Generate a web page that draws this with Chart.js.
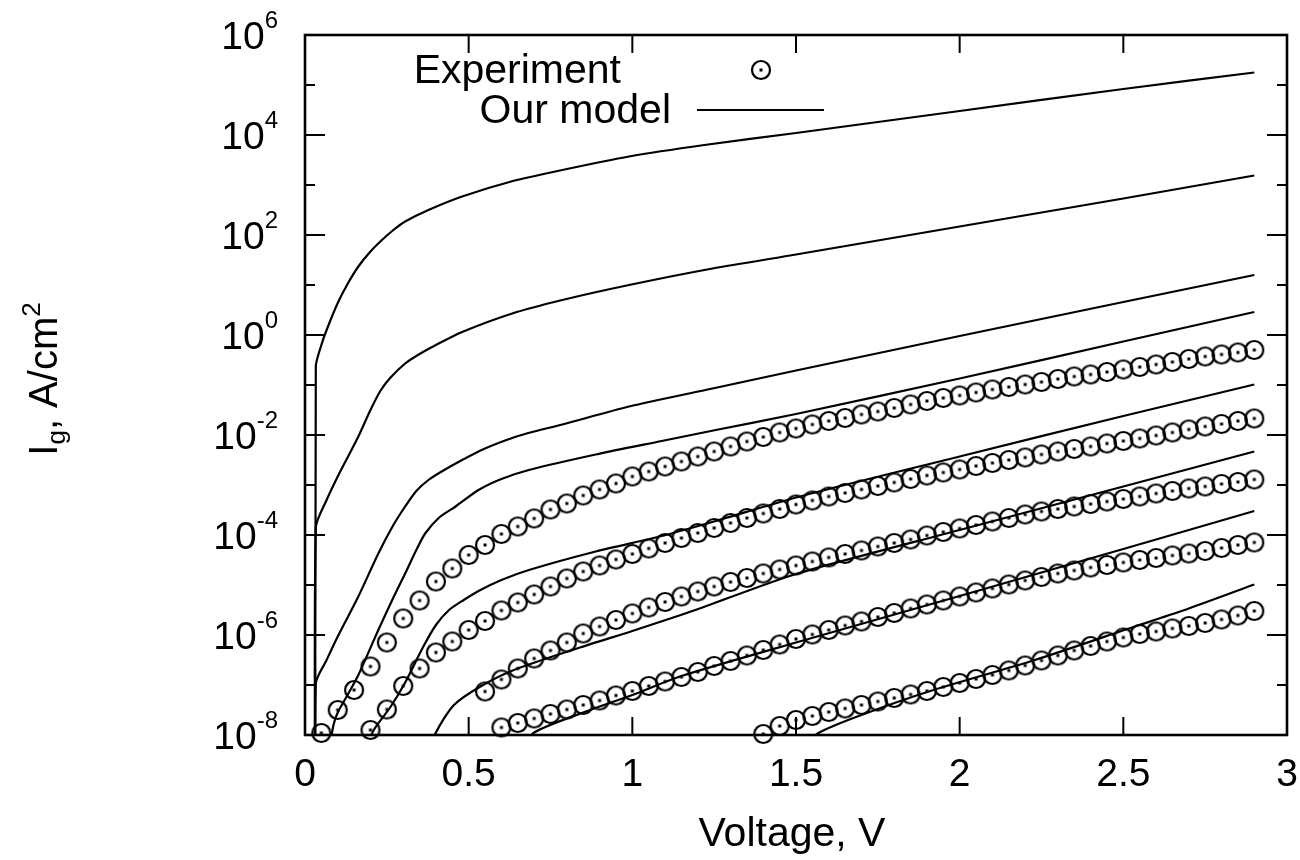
<!DOCTYPE html>
<html>
<head>
<meta charset="utf-8">
<title>Gate current density vs voltage</title>
<script src="https://cdn.jsdelivr.net/npm/chart.js@4.4.1/dist/chart.umd.min.js"></script>
<style>
  html, body { margin: 0; padding: 0; background: #fff; }
  #wrap { width: 1300px; height: 860px; }
</style>
</head>
<body>
<div id="wrap"><canvas id="chart" width="1300" height="860"></canvas></div>
<script>
// axis ticks
const xTickValues = [0, 0.5, 1, 1.5, 2, 2.5, 3];
const xTickLabels = ['0', '0.5', '1', '1.5', '2', '2.5', '3'];
const yMajorExps = [6, 4, 2, 0, -2, -4, -6, -8];
const yMinorExps = [5, 3, 1, -1, -3, -5, -7];

// measured points, one circle every 0.05 V; currents given as log10(A/cm^2)
const expVoltage = [0.05, 0.1, 0.15, 0.2, 0.25, 0.3, 0.35, 0.4, 0.45, 0.5,
  0.55, 0.6, 0.65, 0.7, 0.75, 0.8, 0.85, 0.9, 0.95, 1,
  1.05, 1.1, 1.15, 1.2, 1.25, 1.3, 1.35, 1.4, 1.45, 1.5,
  1.55, 1.6, 1.65, 1.7, 1.75, 1.8, 1.85, 1.9, 1.95, 2,
  2.05, 2.1, 2.15, 2.2, 2.25, 2.3, 2.35, 2.4, 2.45, 2.5,
  2.55, 2.6, 2.65, 2.7, 2.75, 2.8, 2.85, 2.9];

const expA = [-7.96, -7.50, -7.10, -6.63, -6.15, -5.67, -5.31, -4.93, -4.67, -4.40,
  -4.20, -3.98, -3.83, -3.67, -3.49, -3.37, -3.21, -3.09, -2.97, -2.83,
  -2.73, -2.63, -2.53, -2.43, -2.33, -2.23, -2.13, -2.04, -1.95, -1.87,
  -1.79, -1.72, -1.66, -1.59, -1.53, -1.46, -1.39, -1.32, -1.26, -1.21,
  -1.15, -1.09, -1.04, -0.99, -0.94, -0.88, -0.83, -0.79, -0.74, -0.69,
  -0.64, -0.59, -0.54, -0.48, -0.43, -0.39, -0.35, -0.30];
const expAStart = 0.05;

const expB = [-7.90, -7.49, -7.02, -6.67, -6.35, -6.13, -5.90,
  -5.72, -5.51, -5.35, -5.19, -5.03, -4.87, -4.73, -4.61, -4.49, -4.38,
  -4.27, -4.16, -4.06, -3.96, -3.86, -3.76, -3.66, -3.57, -3.48, -3.39,
  -3.31, -3.23, -3.16, -3.09, -3.02, -2.95, -2.88, -2.81, -2.75, -2.69,
  -2.62, -2.56, -2.50, -2.45, -2.39, -2.33, -2.28, -2.23, -2.17, -2.12,
  -2.07, -2.01, -1.95, -1.89, -1.83, -1.78, -1.72, -1.67];
const expBStart = 0.2;

const expC = [-7.13, -6.89, -6.67, -6.47, -6.31, -6.15, -5.97, -5.83, -5.70, -5.57,
  -5.45, -5.34, -5.23, -5.13, -5.03, -4.94, -4.86, -4.77, -4.69, -4.61,
  -4.53, -4.45, -4.38, -4.31, -4.23, -4.16, -4.09, -4.01, -3.94, -3.87,
  -3.80, -3.73, -3.66, -3.59, -3.53, -3.48, -3.43, -3.38, -3.33, -3.28,
  -3.23, -3.17, -3.12, -3.07, -3.03, -2.98, -2.94, -2.89];
const expCStart = 0.55;

const expD = [-7.85, -7.76, -7.67, -7.58, -7.49, -7.40, -7.31, -7.21, -7.12,
  -7.02, -6.93, -6.84, -6.74, -6.62, -6.52, -6.41, -6.30, -6.19, -6.08,
  -5.99, -5.90, -5.81, -5.73, -5.64, -5.56, -5.47, -5.39, -5.31, -5.23,
  -5.15, -5.07, -4.99, -4.91, -4.84, -4.77, -4.71, -4.65, -4.60, -4.55,
  -4.50, -4.46, -4.41, -4.37, -4.32, -4.26, -4.20, -4.15];
const expDStart = 0.6;

const expE = [-7.98, -7.82, -7.70,
  -7.62, -7.54, -7.47, -7.40, -7.33, -7.26, -7.19, -7.12, -7.04, -6.96,
  -6.88, -6.80, -6.71, -6.61, -6.51, -6.41, -6.31, -6.22, -6.13, -6.05,
  -5.98, -5.93, -5.87, -5.82, -5.76, -5.69, -5.61, -5.52];
const expEStart = 1.4;

// model curves (voltage, log10 current); -12 = drops off the bottom of the plot
const modelV1 = [0.033, 0.033, 0.05, 0.066, 0.1, 0.13, 0.163, 0.2, 0.235, 0.27, 0.306, 0.377, 0.48, 0.63, 0.786, 0.99, 1.22, 1.5, 2, 2.5, 2.9];
const modelI1 = [-12, -0.63, -0.2, 0.1, 0.64, 1.02, 1.37, 1.67, 1.9, 2.1, 2.27, 2.5, 2.77, 3.07, 3.3, 3.57, 3.8, 4.04, 4.48, 4.92, 5.25];

const modelV2 = [0.033, 0.033, 0.066, 0.1, 0.13, 0.163, 0.2, 0.23, 0.26, 0.306, 0.35, 0.4, 0.48, 0.633, 0.786, 0.99, 1.245, 1.5, 2, 2.5, 2.9];
const modelI2 = [-12, -3.85, -3.3, -2.83, -2.45, -2.03, -1.5, -1.12, -0.86, -0.57, -0.38, -0.2, 0.06, 0.43, 0.7, 1.0, 1.33, 1.61, 2.17, 2.73, 3.19];

const modelV3 = [0.033, 0.033, 0.066, 0.1, 0.163, 0.224, 0.27, 0.306, 0.34, 0.377, 0.42, 0.48, 0.55, 0.633, 0.7, 0.786, 0.99, 1.245, 1.5, 2, 2.5, 2.9];
const modelI3 = [-12, -6.97, -6.5, -6.03, -5.23, -4.37, -3.8, -3.43, -3.12, -2.9, -2.72, -2.5, -2.27, -2.06, -1.93, -1.79, -1.43, -1.07, -0.71, -0.02, 0.66, 1.2];

const modelV4 = [0.066, 0.087, 0.1, 0.13, 0.163, 0.224, 0.27, 0.306, 0.34, 0.367, 0.41, 0.46, 0.53, 0.6, 0.684, 0.888, 1.09, 1.255, 1.5, 2, 2.5, 2.9];
const modelI4 = [-8.6, -7.8, -7.55, -7.2, -6.8, -5.9, -5.25, -4.77, -4.3, -3.97, -3.65, -3.43, -3.1, -2.88, -2.7, -2.39, -2.12, -1.9, -1.58, -0.87, -0.13, 0.46];

const modelV5 = [0.17, 0.21, 0.26, 0.306, 0.36, 0.4, 0.44, 0.485, 0.53, 0.6, 0.684, 0.888, 1.09, 1.255, 1.5, 2, 2.5, 2.9];
const modelI5 = [-8.5, -7.9, -7.45, -6.95, -6.25, -5.8, -5.5, -5.3, -5.12, -4.9, -4.7, -4.33, -4.02, -3.72, -3.25, -2.43, -1.62, -0.99];

const modelV6 = [0.37, 0.4, 0.455, 0.536, 0.638, 0.84, 1.0, 1.148, 1.21, 1.5, 2, 2.5, 2.9];
const modelI6 = [-8.5, -7.95, -7.4, -7.03, -6.7, -6.25, -5.92, -5.6, -5.46, -4.78, -3.9, -3.03, -2.33];

const modelV7 = [0.66, 0.7, 0.85, 1.0, 1.15, 1.5, 2, 2.5, 2.9];
const modelI7 = [-8.3, -7.95, -7.55, -7.2, -6.82, -6.15, -5.22, -4.28, -3.52];

const modelV8 = [1.52, 1.566, 1.7, 1.92, 2.23, 2.535, 2.7, 2.9];
const modelI8 = [-8.3, -7.97, -7.6, -7.1, -6.5, -5.83, -5.47, -4.99];

const FONT = '"Liberation Sans", Arial, Helvetica, sans-serif';

function expPoints(startV, logs) {
  const i0 = expVoltage.indexOf(startV);
  return logs.map((v, i) => ({x: expVoltage[i0 + i], y: Math.pow(10, v)}));
}

function modelPoints(volts, logs) {
  return volts.map((v, i) => ({x: v, y: Math.pow(10, logs[i])}));
}

// open circle with a dot in the middle
function makeMarker() {
  const c = document.createElement('canvas');
  c.width = 24;
  c.height = 24;
  const g = c.getContext('2d');
  g.strokeStyle = '#000';
  g.lineWidth = 2.2;
  g.beginPath();
  g.arc(12, 12, 9, 0, Math.PI * 2);
  g.stroke();
  g.fillStyle = '#000';
  g.fillRect(10.5, 10.5, 3, 3);
  return c;
}
const marker = makeMarker();

function expSet(startV, logs) {
  return {
    data: expPoints(startV, logs),
    showLine: false,
    pointStyle: marker,
    pointRadius: 10,
    borderColor: '#000',
    clip: false
  };
}

function modelSet(volts, logs) {
  return {
    data: modelPoints(volts, logs),
    showLine: true,
    borderColor: '#000',
    borderWidth: 2.2,
    pointRadius: 0,
    tension: 0.25
  };
}

// text with sub/superscript pieces: [text, size, baseline shift]
function drawRich(ctx, parts, x, y, align) {
  let total = 0;
  for (const p of parts) {
    ctx.font = p[1] + 'px ' + FONT;
    total += ctx.measureText(p[0]).width;
  }
  let cx = align === 'right' ? x - total : (align === 'center' ? x - total / 2 : x);
  for (const p of parts) {
    ctx.font = p[1] + 'px ' + FONT;
    ctx.fillText(p[0], cx, y + p[2]);
    cx += ctx.measureText(p[0]).width;
  }
}

const gnuplotFrame = {
  id: 'gnuplotFrame',
  beforeDatasetsDraw(chart) {
    const {ctx, chartArea: a, scales: {x, y}} = chart;
    ctx.save();
    ctx.strokeStyle = '#000';
    ctx.lineWidth = 2;
    ctx.beginPath();
    xTickValues.forEach(v => {
      const px = x.getPixelForValue(v);
      ctx.moveTo(px, a.bottom); ctx.lineTo(px, a.bottom - 18);
      ctx.moveTo(px, a.top); ctx.lineTo(px, a.top + 18);
    });
    yMajorExps.forEach(e => {
      const py = y.getPixelForValue(Math.pow(10, e));
      ctx.moveTo(a.left, py); ctx.lineTo(a.left + 20, py);
      ctx.moveTo(a.right, py); ctx.lineTo(a.right - 20, py);
    });
    yMinorExps.forEach(e => {
      const py = y.getPixelForValue(Math.pow(10, e));
      ctx.moveTo(a.left, py); ctx.lineTo(a.left + 10, py);
      ctx.moveTo(a.right, py); ctx.lineTo(a.right - 10, py);
    });
    ctx.stroke();
    ctx.lineWidth = 2.6;
    ctx.strokeRect(a.left, a.top, a.right - a.left, a.bottom - a.top);
    ctx.restore();
  },
  afterDraw(chart) {
    const {ctx, chartArea: a, scales: {x, y}} = chart;
    ctx.save();
    ctx.fillStyle = '#000';
    ctx.textAlign = 'left';
    ctx.textBaseline = 'alphabetic';

    yMajorExps.forEach(e => {
      const py = y.getPixelForValue(Math.pow(10, e));
      drawRich(ctx, [['10', 39, 0], [String(e), 24, -21]], a.left - 27, py + 14, 'right');
    });
    xTickValues.forEach((v, i) => {
      drawRich(ctx, [[xTickLabels[i], 39, 0]], x.getPixelForValue(v), a.bottom + 51, 'center');
    });

    drawRich(ctx, [['Voltage, V', 41, 0]], (a.left + a.right) / 2 - 4, 846, 'center');

    ctx.save();
    ctx.translate(57, 379);
    ctx.rotate(-Math.PI / 2);
    drawRich(ctx, [['I', 40, 0], ['g', 26, 8], [', A/cm', 40, 0], ['2', 26, -17]], 0, 0, 'center');
    ctx.restore();

    // key, top left inside the frame
    drawRich(ctx, [['Experiment', 41, 0]], 621, 83, 'right');
    ctx.drawImage(marker, 761 - 12, 70 - 12);
    drawRich(ctx, [['Our model', 41, 0]], 671, 123, 'right');
    ctx.lineWidth = 2.2;
    ctx.strokeStyle = '#000';
    ctx.beginPath();
    ctx.moveTo(697, 110);
    ctx.lineTo(824, 110);
    ctx.stroke();
    ctx.restore();
  }
};

new Chart(document.getElementById('chart'), {
  type: 'scatter',
  data: {
    datasets: [
      modelSet(modelV1, modelI1),
      modelSet(modelV2, modelI2),
      modelSet(modelV3, modelI3),
      modelSet(modelV4, modelI4),
      modelSet(modelV5, modelI5),
      modelSet(modelV6, modelI6),
      modelSet(modelV7, modelI7),
      modelSet(modelV8, modelI8),
      expSet(expAStart, expA),
      expSet(expBStart, expB),
      expSet(expCStart, expC),
      expSet(expDStart, expD),
      expSet(expEStart, expE)
    ]
  },
  options: {
    responsive: false,
    animation: false,
    layout: {padding: {left: 305, right: 13, top: 35, bottom: 125}},
    plugins: {legend: {display: false}, tooltip: {enabled: false}},
    scales: {
      x: {type: 'linear', min: 0, max: 3, display: false},
      y: {type: 'logarithmic', min: 1e-8, max: 1e6, display: false}
    }
  },
  plugins: [gnuplotFrame]
});
</script>
</body>
</html>
